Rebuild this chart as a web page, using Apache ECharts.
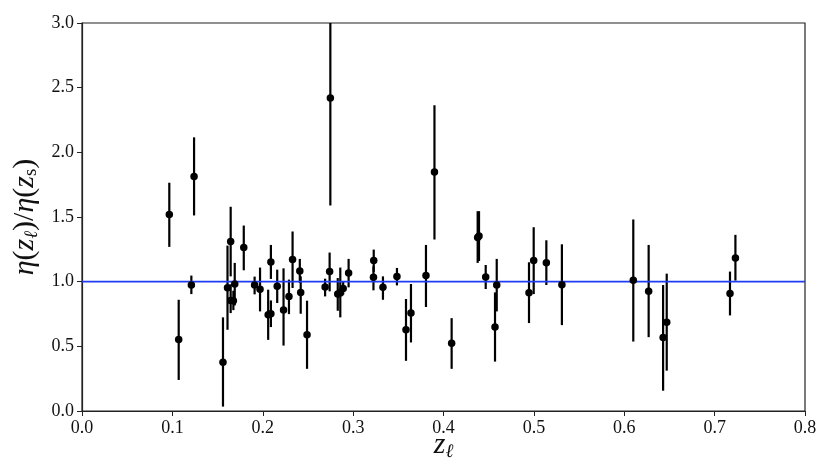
<!DOCTYPE html>
<html>
<head>
<meta charset="utf-8">
<script src="https://cdn.jsdelivr.net/npm/echarts@6/dist/echarts.min.js"></script>
<style>
  html, body { margin: 0; padding: 0; background: #fff; }
  #chart { width: 831px; height: 467px; }
</style>
</head>
<body>
<div id="chart"></div>
<script>
// lens redshift, ratio and its error bounds
const zl = [0.0966, 0.107, 0.121, 0.124, 0.156, 0.161, 0.1645, 0.1645, 0.1675, 0.169,
  0.179, 0.191, 0.197, 0.206, 0.209, 0.209, 0.216, 0.223, 0.229, 0.233,
  0.241, 0.242, 0.249, 0.269, 0.274, 0.2748, 0.283, 0.2858, 0.289, 0.295,
  0.3225, 0.3228, 0.333, 0.3485, 0.3585, 0.364, 0.3806, 0.390, 0.409, 0.4378,
  0.4393, 0.4467, 0.457, 0.4589, 0.4946, 0.4998, 0.5138, 0.531, 0.610, 0.627,
  0.643, 0.647, 0.717, 0.723]
const ratio = [1.519, 0.553, 0.974, 1.814, 0.377, 0.953, 1.310, 0.855, 0.853, 0.982,
  1.264, 0.974, 0.941, 0.744, 0.752, 1.152, 0.964, 0.780, 0.886, 1.171,
  1.083, 0.917, 0.589, 0.959, 1.078, 2.421, 0.904, 0.912, 0.948, 1.067,
  1.034, 1.163, 0.956, 1.039, 0.628, 0.757, 1.047, 1.848, 0.524, 1.341,
  1.354, 1.036, 0.649, 0.974, 0.915, 1.163, 1.147, 0.977, 1.010, 0.925,
  0.568, 0.687, 0.909, 1.183]
const lower = [1.269, 0.240, 0.904, 1.512, 0.034, 0.628, 1.041, 0.757, 0.780, 0.816,
  1.088, 0.902, 0.770, 0.550, 0.649, 1.021, 0.835, 0.506, 0.749, 0.951,
  0.990, 0.752, 0.326, 0.886, 0.925, 1.589, 0.775, 0.724, 0.900, 0.956,
  0.933, 1.075, 0.860, 0.971, 0.388, 0.530, 0.804, 1.326, 0.326, 1.145,
  1.160, 0.943, 0.382, 0.770, 0.680, 0.904, 0.974, 0.664, 0.537, 0.571,
  0.157, 0.312, 0.739, 1.008]
const upper = [1.765, 0.860, 1.047, 2.116, 0.724, 1.279, 1.579, 0.980, 0.930, 1.145,
  1.434, 1.039, 1.109, 0.938, 0.855, 1.284, 1.093, 1.103, 1.016, 1.388,
  1.176, 1.041, 0.853, 1.023, 1.225, 3.100, 1.028, 1.109, 1.000, 1.176,
  1.119, 1.248, 1.041, 1.106, 0.866, 0.982, 1.284, 2.364, 0.718, 1.545,
  1.545, 1.129, 0.917, 1.176, 1.150, 1.421, 1.320, 1.289, 1.481, 1.284,
  0.974, 1.062, 1.078, 1.362]
const refLevel = 1.0

const chart = echarts.init(document.getElementById('chart'))
const font = "'Liberation Serif', serif"

const points = zl.map((z, i) => [z, ratio[i]])
const bars = zl.map((z, i) => [z, lower[i], upper[i]])

const option = {
  animation: false,
  grid: {
    left: 82, right: 26, top: 23, bottom: 56,
    containLabel: false, outerBoundsMode: 'none',
    show: true, borderColor: '#222', borderWidth: 1.2, backgroundColor: 'transparent'
  },
  xAxis: {
    type: 'value', min: 0, max: 0.8, interval: 0.1,
    axisLine: { lineStyle: { color: '#222', width: 1.2 } },
    axisTick: { show: true, length: 5, lineStyle: { color: '#222' } },
    splitLine: { show: false },
    axisLabel: { fontFamily: font, fontSize: 18, color: '#111', margin: 8,
      formatter: v => v.toFixed(1) },
    name: '{i|z}{sub|ℓ}', nameLocation: 'middle', nameGap: 19,
    nameMoveOverlap: false,
    nameTextStyle: {
      fontFamily: font, fontStyle: 'italic',
      rich: {
        i: { fontFamily: font, fontStyle: 'italic', fontSize: 30, color: '#111' },
        sub: { fontFamily: font, fontStyle: 'italic', fontSize: 19, color: '#111', padding: [12, 0, 0, 0] }
      }
    }
  },
  yAxis: {
    type: 'value', min: 0, max: 3, interval: 0.5,
    axisLine: { show: true, lineStyle: { color: '#222', width: 1.2 } },
    axisTick: { show: true, length: 5, lineStyle: { color: '#222' } },
    splitLine: { show: false },
    axisLabel: { fontFamily: font, fontSize: 18, color: '#111', margin: 8,
      formatter: v => v.toFixed(1) },
    name: '{i|η}{n|(}{i|z}{sub|ℓ}{n|)/}{i|η}{n|(}{i|z}{sr|s}{n|)}',
    nameLocation: 'middle', nameRotate: 90, nameGap: 41,
    nameMoveOverlap: false,
    nameTextStyle: {
      fontFamily: font,
      rich: {
        i: { fontFamily: font, fontStyle: 'italic', fontSize: 30, color: '#111' },
        n: { fontFamily: font, fontSize: 30, color: '#111' },
        sub: { fontFamily: font, fontStyle: 'italic', fontSize: 19, color: '#111', padding: [12, 0, 0, 0] },
        sr: { fontFamily: font, fontSize: 19, color: '#111', padding: [12, 0, 0, 0] }
      }
    }
  },
  series: [
    {
      // error bars
      type: 'custom',
      clip: true,
      data: bars,
      z: 2,
      renderItem: (params, api) => {
        const p0 = api.coord([api.value(0), api.value(1)])
        const p1 = api.coord([api.value(0), api.value(2)])
        return {
          type: 'line',
          shape: { x1: p0[0], y1: p0[1], x2: p1[0], y2: p1[1] },
          style: { stroke: '#000', lineWidth: 2.2 }
        }
      }
    },
    {
      type: 'line',
      data: [[0, refLevel], [0.8, refLevel]],
      symbol: 'none',
      lineStyle: { color: '#1f3cf5', width: 1.8 },
      z: 3
    },
    {
      type: 'scatter',
      data: points,
      symbolSize: 7.5,
      itemStyle: { color: '#000', opacity: 1 },
      z: 4
    }
  ]
}
chart.setOption(option)
</script>
</body>
</html>
